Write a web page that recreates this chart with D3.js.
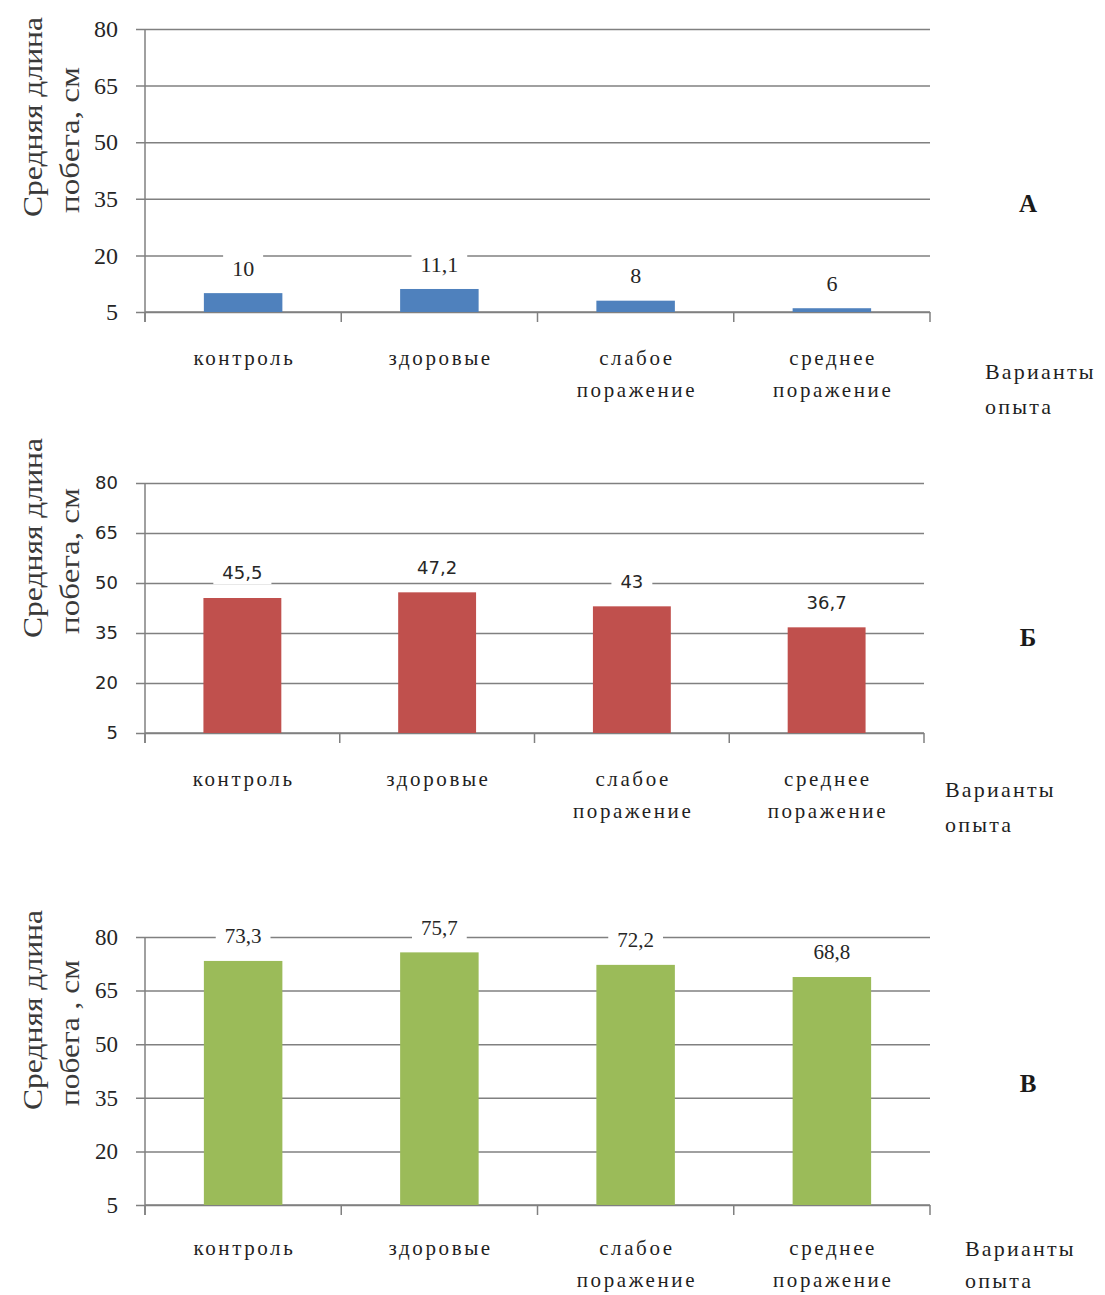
<!DOCTYPE html>
<html>
<head>
<meta charset="utf-8">
<script src="https://cdn.jsdelivr.net/npm/d3@7"></script>
<style>
  html, body { margin: 0; padding: 0; background: #fff; }
  svg { display: block; }
</style>
</head>
<body>
<svg id="chart" width="1105" height="1295"></svg>
<script>
// Categories of the experiment (two-line labels under the x axis)
const categories = ["контроль", "здоровые", "слабое поражение", "среднее поражение"];
const categoryLines = [["контроль"], ["здоровые"], ["слабое", "поражение"], ["среднее", "поражение"]];

// Mean shoot length, cm, for the three panels
const valuesA = [10, 11.1, 8, 6];
const valuesB = [45.5, 47.2, 43, 36.7];
const valuesC = [73.3, 75.7, 72.2, 68.8];

// Value axis ticks
const yTicks = [5, 20, 35, 50, 65, 80];

const svg = d3.select("#chart");
const serif = "'Liberation Serif', 'Times New Roman', serif";
const sans = "'DejaVu Sans', Verdana, sans-serif";
const fmt = v => String(v).replace(".", ",");

const panels = [
  { letter: "А", values: valuesA, color: "#4f81bd",
    top: 29, bottom: 312, left: 145, right: 930,
    tickFont: serif, tickSize: 24, valFont: serif, valSize: 22,
    title: ["Средняя длина", "побега, см"], catDy: 53,
    xTitleX: 985, xTitleDy: [60, 95], letterY: 203 },
  { letter: "Б", values: valuesB, color: "#c0504d",
    top: 483, bottom: 733, left: 145, right: 924,
    tickFont: sans, tickSize: 18, valFont: sans, valSize: 18,
    title: ["Средняя длина", "побега, см"], catDy: 53,
    xTitleX: 945, xTitleDy: [57, 92], letterY: 637 },
  { letter: "В", values: valuesC, color: "#9bbb59",
    top: 937, bottom: 1205, left: 145, right: 930,
    tickFont: serif, tickSize: 23, valFont: serif, valSize: 21,
    title: ["Средняя длина", "побега , см"], catDy: 50,
    xTitleX: 965, xTitleDy: [44, 76], letterY: 1083 }
];

panels.forEach(p => {
  const g = svg.append("g");
  const x = d3.scaleBand().domain(categories).range([p.left, p.right])
    .paddingInner(0.6).paddingOuter(0.3);
  const y = d3.scaleLinear().domain([5, 80]).range([p.bottom, p.top]);
  const gridColor = "#808080";

  // Horizontal gridlines (with left tick stubs) and tick labels
  const yAxis = d3.axisLeft(y).tickValues(yTicks)
    .tickSize(-(p.right - p.left)).tickSizeOuter(0).tickPadding(27);
  const ya = g.append("g").attr("transform", `translate(${p.left},0)`).call(yAxis);
  ya.select(".domain").remove();
  ya.selectAll(".tick line").attr("stroke", gridColor).attr("stroke-width", 1.5)
    .attr("x1", -9);
  ya.selectAll(".tick text")
    .attr("font-family", p.tickFont).attr("font-size", p.tickSize)
    .attr("fill", "#262626");

  // Vertical axis line
  g.append("line")
    .attr("x1", p.left).attr("x2", p.left)
    .attr("y1", y(80)).attr("y2", y(5) + 10)
    .attr("stroke", gridColor).attr("stroke-width", 1.5);

  // Bottom axis line with tick marks between categories
  g.append("line")
    .attr("x1", p.left).attr("x2", p.right)
    .attr("y1", y(5)).attr("y2", y(5))
    .attr("stroke", gridColor).attr("stroke-width", 1.5);
  const bounds = d3.range(categories.length + 1).map(i => p.left + i * (p.right - p.left) / categories.length);
  g.selectAll(".xtick").data(bounds).join("line")
    .attr("x1", d => d).attr("x2", d => d)
    .attr("y1", y(5)).attr("y2", y(5) + 10)
    .attr("stroke", gridColor).attr("stroke-width", 1.5);

  // Bars
  g.selectAll(".bar").data(p.values).join("rect")
    .attr("x", (d, i) => x(categories[i]))
    .attr("width", x.bandwidth())
    .attr("y", d => y(d))
    .attr("height", d => y(5) - y(d))
    .attr("fill", p.color);

  // Value labels on a white backing
  const lab = g.selectAll(".val").data(p.values).join("g")
    .attr("transform", (d, i) => `translate(${x(categories[i]) + x.bandwidth() / 2},${y(d) - 25})`);
  const txt = lab.append("text")
    .attr("text-anchor", "middle").attr("dy", "0.35em")
    .attr("font-family", p.valFont).attr("font-size", p.valSize)
    .attr("fill", "#262626")
    .text(d => fmt(d));
  txt.each(function () {
    const b = this.getBBox();
    d3.select(this.parentNode).insert("rect", "text")
      .attr("x", b.x - 9).attr("y", b.y - 1)
      .attr("width", b.width + 18).attr("height", b.height + 2)
      .attr("fill", "#fff");
  });

  // Category labels
  categoryLines.forEach((lines, i) => {
    const t = g.append("text")
      .attr("text-anchor", "middle")
      .attr("font-family", serif).attr("font-size", 21)
      .attr("letter-spacing", 2.6)
      .attr("fill", "#1f1f1f");
    lines.forEach((s, j) => {
      t.append("tspan")
        .attr("x", x(categories[i]) + x.bandwidth() / 2 + 1.3)
        .attr("y", y(5) + p.catDy + j * 32)
        .text(s);
    });
  });

  // X axis title
  const xt = g.append("text")
    .attr("font-family", serif).attr("font-size", 22)
    .attr("letter-spacing", 2.2)
    .attr("fill", "#1f1f1f");
  ["Варианты", "опыта"].forEach((s, j) => {
    xt.append("tspan").attr("x", p.xTitleX)
      .attr("y", y(5) + p.xTitleDy[j] + 7).text(s);
  });

  // Y axis title, rotated, two lines
  const yt = g.append("text")
    .attr("transform", `translate(0,${y(5) - 95}) rotate(-90)`)
    .attr("font-family", serif).attr("font-size", 27)
    .attr("fill", "#3a3a3a");
  p.title.forEach((s, j) => {
    yt.append("tspan").attr("x", j === 0 ? 0 : 4).attr("y", 42 + j * 37)
      .attr("textLength", j === 0 ? 200 : 146)
      .attr("lengthAdjust", "spacingAndGlyphs")
      .text(s);
  });

  // Panel letter
  g.append("text")
    .attr("x", 1028).attr("y", p.letterY)
    .attr("text-anchor", "middle").attr("dy", "0.35em")
    .attr("font-family", serif).attr("font-size", 25).attr("font-weight", "bold")
    .attr("fill", "#1a1a1a")
    .text(p.letter);
});
</script>
</body>
</html>
